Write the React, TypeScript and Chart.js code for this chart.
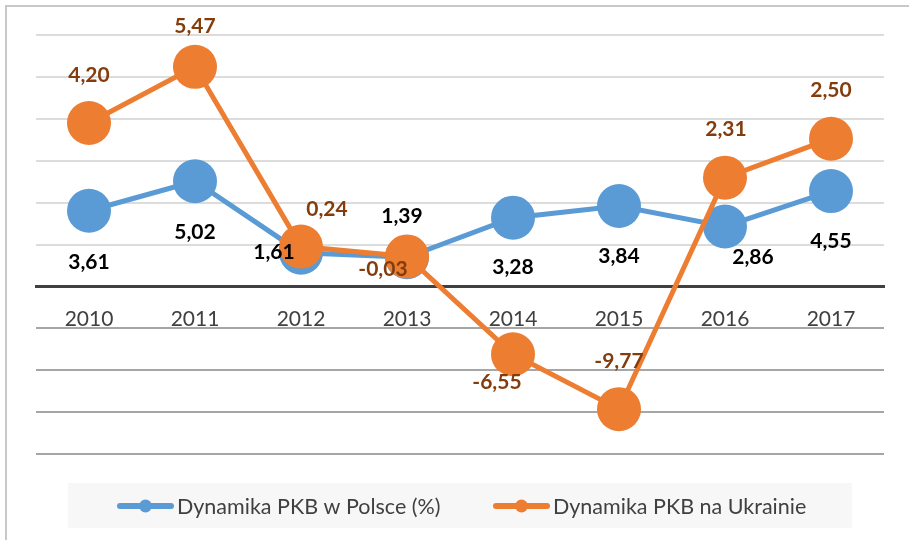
import React, { useEffect, useRef } from 'react';
import { Chart, registerables } from 'chart.js';

Chart.register(...registerables);

// ---- data ----
const years = ['2010', '2011', '2012', '2013', '2014', '2015', '2016', '2017'];
const polandGrowth = [3.61, 5.02, 1.61, 1.39, 3.28, 3.84, 2.86, 4.55];
// positions at which the Ukraine markers are plotted in the source picture
const ukrainePlotted = [7.8, 10.48, 1.9, 1.43, -3.24, -5.86, 5.19, 7.05];
// the value labels printed next to the Ukraine markers
const ukraineLabelValues = [4.2, 5.47, 0.24, -0.03, -6.55, -9.77, 2.31, 2.5];
const seriesNames = ['Dynamika PKB w Polsce (%)', 'Dynamika PKB na Ukrainie'];
const yMin = -8;
const yMax = 12;
const yStep = 2;

// ---- layout / style ----
const BLUE = '#5B9BD5';
const ORANGE = '#ED7D31';
const FONT = 'Lato, "Open Sans", sans-serif';
const polandLabelOffsets: [number, number][] = [
  [0, 51], [0, 51], [-27, 0], [-5, -41], [0, 50], [0, 50], [28, 31], [0, 50],
];
const ukraineLabelOffsets: [number, number][] = [
  [0, -48], [0, -41], [26, -37], [-24, 13], [-16, 28], [0, -48], [1, -48], [0, -48],
];

const fmt = (v: number) => v.toFixed(2).replace('.', ',');

const valueLabelPlugin = {
  id: 'valueLabels',
  afterDatasetsDraw(chart: any) {
    const ctx = chart.ctx;
    ctx.save();
    ctx.font = `bold 21px ${FONT}`;
    ctx.textAlign = 'center';
    ctx.textBaseline = 'middle';
    const sets = [
      { idx: 0, texts: polandGrowth.map(fmt), offs: polandLabelOffsets, color: '#000000' },
      { idx: 1, texts: ukraineLabelValues.map(fmt), offs: ukraineLabelOffsets, color: '#843C0C' },
    ];
    sets.forEach((s) => {
      const meta = chart.getDatasetMeta(s.idx);
      ctx.fillStyle = s.color;
      meta.data.forEach((pt: any, i: number) => {
        const { x, y } = pt.getProps(['x', 'y'], true);
        ctx.fillText(s.texts[i], x + s.offs[i][0], y + s.offs[i][1]);
      });
    });
    ctx.restore();
  },
};

const frameLegendPlugin = {
  id: 'frameLegend',
  afterDraw(chart: any) {
    const ctx = chart.ctx;
    ctx.save();
    // outer frame (left + top)
    ctx.strokeStyle = '#c8c8c8';
    ctx.lineWidth = 2;
    ctx.beginPath();
    ctx.moveTo(6, 540);
    ctx.lineTo(6, 6);
    ctx.lineTo(909, 6);
    ctx.stroke();
    // legend box
    ctx.fillStyle = '#f7f7f7';
    ctx.fillRect(68, 483, 784, 45);
    const items = [
      { x: 117, color: BLUE, text: seriesNames[0] },
      { x: 493, color: ORANGE, text: seriesNames[1] },
    ];
    const cy = 506;
    ctx.font = `21.5px ${FONT}`;
    ctx.textBaseline = 'middle';
    ctx.textAlign = 'left';
    items.forEach((it) => {
      ctx.strokeStyle = it.color;
      ctx.lineWidth = 6;
      ctx.lineCap = 'round';
      ctx.beginPath();
      ctx.moveTo(it.x + 3, cy);
      ctx.lineTo(it.x + 54, cy);
      ctx.stroke();
      ctx.fillStyle = it.color;
      ctx.beginPath();
      ctx.arc(it.x + 28.5, cy, 6.5, 0, Math.PI * 2);
      ctx.fill();
      ctx.fillStyle = '#404040';
      ctx.fillText(it.text, it.x + 60, cy + 1);
    });
    ctx.restore();
  },
};

function LineChart() {
  const ref = useRef<HTMLCanvasElement | null>(null);
  useEffect(() => {
    if (!ref.current) return;
    const chart = new Chart(ref.current, {
      type: 'line',
      data: {
        labels: years,
        datasets: [
          {
            label: seriesNames[0],
            data: polandGrowth,
            borderColor: BLUE,
            backgroundColor: BLUE,
            borderWidth: 5,
            pointRadius: 22,
            pointHoverRadius: 22,
            pointBorderWidth: 0,
            pointBackgroundColor: BLUE,
            tension: 0,
            order: 1,
          },
          {
            label: seriesNames[1],
            data: ukrainePlotted,
            borderColor: ORANGE,
            backgroundColor: ORANGE,
            borderWidth: 5,
            pointRadius: 22,
            pointHoverRadius: 22,
            pointBorderWidth: 0,
            pointBackgroundColor: ORANGE,
            tension: 0,
            order: 0,
          },
        ],
      },
      options: {
        responsive: false,
        animation: false,
        events: [],
        layout: { padding: { left: 36, right: 25, top: 35, bottom: 86 } },
        plugins: { legend: { display: false }, tooltip: { enabled: false } },
        scales: {
          x: {
            position: { y: 0 } as any,
            offset: true,
            grid: { display: false, drawTicks: false },
            border: { display: true, color: '#404040', width: 3 },
            ticks: { color: '#404040', font: { family: FONT, size: 21 }, padding: 20 },
          },
          y: {
            min: yMin,
            max: yMax,
            ticks: { stepSize: yStep, display: false },
            border: { display: false },
            grid: {
              drawTicks: false,
              lineWidth: 2,
              color: (c: any) =>
                c.tick && c.tick.value === 0
                  ? 'rgba(0,0,0,0)'
                  : c.tick && c.tick.value > 0
                  ? '#dcdcdc'
                  : '#a6a6a6',
            },
          },
        },
      },
      plugins: [valueLabelPlugin, frameLegendPlugin],
    });
    return () => chart.destroy();
  }, []);
  return <canvas ref={ref} width={909} height={540} style={{ display: 'block' }} />;
}

export default function App() {
  return (
    <div style={{ position: 'absolute', left: 0, top: 0, width: 909, height: 540, background: '#ffffff' }}>
      <LineChart />
    </div>
  );
}
